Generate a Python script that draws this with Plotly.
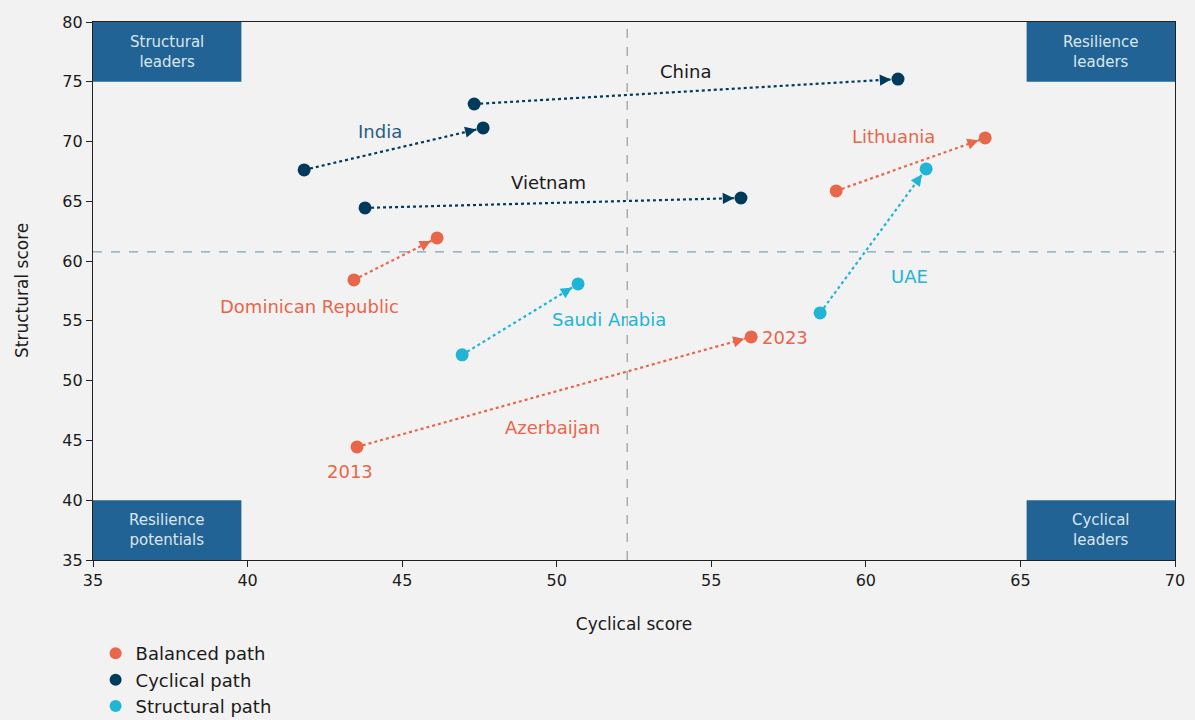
import math
import plotly.graph_objects as go

# Country paths, 2013 -> 2023 (cyclical score, structural score)
countries = ["China", "India", "Vietnam", "Dominican Republic", "Saudi Arabia",
             "Azerbaijan", "Lithuania", "UAE"]
path_type = ["Cyclical", "Cyclical", "Cyclical", "Balanced", "Structural",
             "Balanced", "Balanced", "Structural"]
cyc_2013 = [47.33, 41.83, 43.80, 43.44, 46.94, 43.54, 59.04, 58.52]
str_2013 = [73.14, 67.63, 64.45, 58.43, 52.16, 44.46, 65.87, 55.67]
cyc_2023 = [61.04, 47.62, 55.96, 46.13, 50.69, 56.29, 63.86, 61.95]
str_2023 = [75.23, 71.14, 65.28, 61.94, 58.09, 53.66, 70.30, 67.71]

# Reference lines (averages)
cyc_avg = 52.28
str_avg = 60.77

path_names = ["Balanced", "Cyclical", "Structural"]
path_colors = {"Balanced": "#E8664A", "Cyclical": "#003A5D", "Structural": "#21B5D5"}

# Country label positions and colours
label_x = [54.15, 44.29, 49.75, 41.99, 51.7, 49.85, 60.9, 61.4]
label_y = [75.82, 70.8, 66.6, 56.2, 55.1, 46.05, 70.4, 58.68]
label_colors = ["#1A1A1A", "#2A5C84", "#1A1A1A", "#E8664A", "#21B5D5",
                "#E8664A", "#E8664A", "#21B5D5"]

quadrants = ["Structural<br>leaders", "Resilience<br>leaders",
             "Resilience<br>potentials", "Cyclical<br>leaders"]
quad_x0 = [35, 65.2, 35, 65.2]
quad_x1 = [39.8, 70, 39.8, 70]
quad_y0 = [75, 75, 35, 35]
quad_y1 = [80, 80, 40, 40]

FONT = "DejaVu Sans"
BOX = "#216394"

W, H = 1195, 720
ML, MR, MT, MB = 93, 20, 22, 160
X_RANGE = [35, 70]
Y_RANGE = [35, 80]
px_per_x = (W - ML - MR) / (X_RANGE[1] - X_RANGE[0])
px_per_y = (H - MT - MB) / (Y_RANGE[1] - Y_RANGE[0])

fig = go.Figure()

for i, name in enumerate(countries):
    col = path_colors[path_type[i]]
    fig.add_trace(go.Scatter(
        x=[cyc_2013[i], cyc_2023[i]], y=[str_2013[i], str_2023[i]],
        mode="lines", line=dict(color=col, width=2.2, dash="dot"),
        showlegend=False, hoverinfo="skip"))
    fig.add_trace(go.Scatter(
        x=[cyc_2013[i], cyc_2023[i]], y=[str_2013[i], str_2023[i]],
        mode="markers", marker=dict(color=col, size=13),
        showlegend=False, name=name))
    # arrowhead just short of the 2023 marker, pointing along the path
    dxp = (cyc_2023[i] - cyc_2013[i]) * px_per_x
    dyp = -(str_2023[i] - str_2013[i]) * px_per_y
    n = math.hypot(dxp, dyp)
    L = 18
    fig.add_annotation(
        x=cyc_2023[i], y=str_2023[i], ax=-L * dxp / n, ay=-L * dyp / n,
        xref="x", yref="y", showarrow=True, arrowhead=2, arrowsize=1.4,
        arrowwidth=1.6, arrowcolor=col, standoff=7, text="")
    fig.add_annotation(
        x=label_x[i], y=label_y[i], text=name, showarrow=False,
        font=dict(family=FONT, size=18, color=label_colors[i]))

# Year markers on the Azerbaijan path
fig.add_annotation(x=43.3, y=42.4, text="2013", showarrow=False,
                   font=dict(family=FONT, size=18, color="#E8664A"))
fig.add_annotation(x=57.39, y=53.6, text="2023", showarrow=False,
                   font=dict(family=FONT, size=18, color="#E8664A"))

# Legend entries
for p in path_names:
    fig.add_trace(go.Scatter(
        x=[None], y=[None], mode="markers",
        marker=dict(color=path_colors[p], size=13),
        name=f"{p} path"))

# Average reference lines
fig.add_shape(type="line", x0=cyc_avg, x1=cyc_avg, y0=35, y1=80,
              xref="x", yref="y", line=dict(color="#A0A0A0", width=1.3, dash="dash"))
fig.add_shape(type="line", x0=35, x1=70, y0=str_avg, y1=str_avg,
              xref="x", yref="y", line=dict(color="#7FA3B8", width=1.3, dash="dash"))

# Quadrant boxes
for q, x0, x1, y0, y1 in zip(quadrants, quad_x0, quad_x1, quad_y0, quad_y1):
    fig.add_shape(type="rect", x0=x0, x1=x1, y0=y0, y1=y1, xref="x", yref="y",
                  fillcolor=BOX, line=dict(width=0), layer="above")
    fig.add_annotation(x=(x0 + x1) / 2, y=(y0 + y1) / 2, text=q, showarrow=False,
                       font=dict(family=FONT, size=15, color="#DCE6EF"))

# Y-axis title
fig.add_annotation(x=-(ML - 22) / (W - ML - MR), y=0.5, xref="paper", yref="paper",
                   text="Structural score", textangle=-90, showarrow=False,
                   xanchor="center", yanchor="middle",
                   font=dict(family=FONT, size=17, color="#1A1A1A"))

axis_common = dict(showgrid=False, zeroline=False, showline=True, linecolor="#222222",
                   linewidth=1.2, mirror=True, ticks="outside", ticklen=6,
                   tickcolor="#222222", tickfont=dict(family=FONT, size=16, color="#1A1A1A"))

fig.update_xaxes(range=X_RANGE, dtick=5, title=dict(text="Cyclical score",
                 font=dict(family=FONT, size=17, color="#1A1A1A"), standoff=28),
                 **axis_common)
fig.update_yaxes(range=Y_RANGE, dtick=5, **axis_common)

fig.update_layout(
    width=W, height=H,
    margin=dict(l=ML, r=MR, t=MT, b=MB, autoexpand=False),
    paper_bgcolor="#F2F2F2", plot_bgcolor="#F2F2F2",
    font=dict(family=FONT),
    legend=dict(x=0.08, y=0.118, xref="container", yref="container",
                xanchor="left", yanchor="top",
                bgcolor="rgba(0,0,0,0)", font=dict(family=FONT, size=18, color="#1A1A1A"),
                tracegroupgap=0, itemsizing="constant"),
)

fig.write_html("out.html")
